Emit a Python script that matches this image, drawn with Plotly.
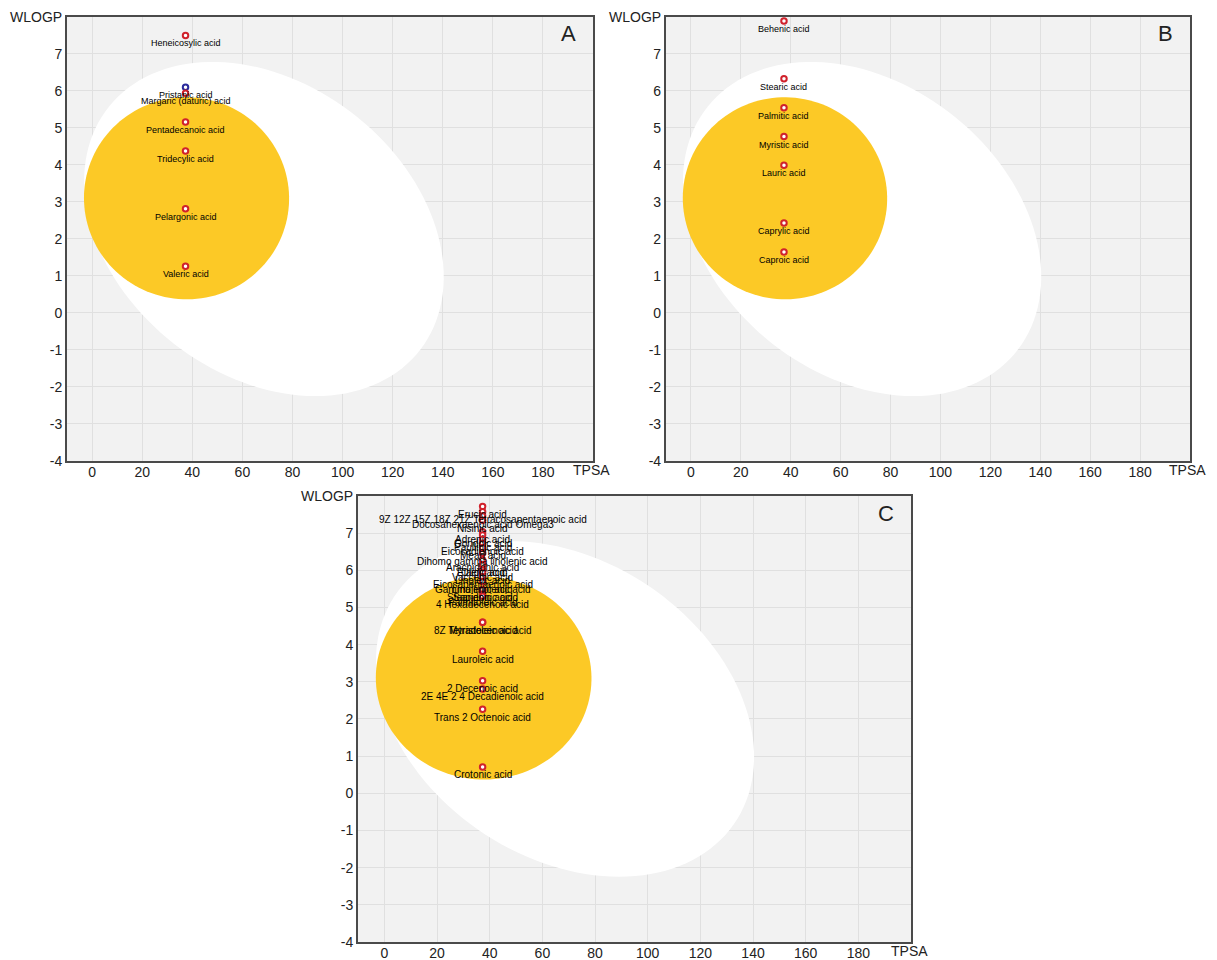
import numpy as np
import plotly.graph_objects as go

# TPSA / WLOGP of the fatty acids (BOILED-Egg)
A_NAMES = ["Heneicosylic acid", "Pristanic acid", "Margaric (daturic) acid",
           "Pentadecanoic acid", "Tridecylic acid", "Pelargonic acid", "Valeric acid"]
A_TPSA = [37.30, 37.30, 37.30, 37.30, 37.30, 37.30, 37.30]
A_WLOGP = [7.50, 6.10, 5.94, 5.16, 4.38, 2.82, 1.26]
A_PGP = [False, True, False, False, False, False, False]

B_NAMES = ["Behenic acid", "Stearic acid", "Palmitic acid", "Myristic acid",
           "Lauric acid", "Caprylic acid", "Caproic acid"]
B_TPSA = [37.30, 37.30, 37.30, 37.30, 37.30, 37.30, 37.30]
B_WLOGP = [7.89, 6.33, 5.55, 4.77, 3.99, 2.43, 1.65]
B_PGP = [False, False, False, False, False, False, False]

C_NAMES = ["Erucic acid", "9Z 12Z 15Z 18Z 21Z Tetracosapentaenoic acid",
           "Docosahexaenoic acid Omega3", "Nisinic acid", "Adrenic acid",
           "Gondoic acid", "Paullinic acid", "Eicosadienoic acid", "Mead acid",
           "Dihomo gamma linolenic acid", "Arachidonic acid", "Elaidic acid",
           "Oleic acid", "Vaccenic acid", "Linoleic acid", "Eicosapentaenoic acid",
           "Linolenic acid", "Gamma linolenic acid", "Stearidonic acid",
           "Sapienic acid", "Palmitoleic acid", "4 Hexadecenoic acid",
           "Myristoleic acid", "8Z Tetradecenoic acid", "Lauroleic acid",
           "2 Decenoic acid", "2E 4E 2 4 Decadienoic acid",
           "Trans 2 Octenoic acid", "Crotonic acid"]
C_TPSA = [37.30, 37.30, 37.30, 37.30, 37.30, 37.30, 37.30, 37.30, 37.30, 37.30,
          37.30, 37.30, 37.30, 37.30, 37.30, 37.30, 37.30, 37.30, 37.30, 37.30,
          37.30, 37.30, 37.30, 37.30, 37.30, 37.30, 37.30, 37.30, 37.30]
C_WLOGP = [7.72, 7.58, 7.46, 7.35, 7.04, 6.95, 6.84, 6.73, 6.61, 6.46,
           6.28, 6.15, 6.15, 6.01, 5.95, 5.83, 5.70, 5.70, 5.48, 5.48,
           5.36, 5.30, 4.60, 4.60, 3.82, 3.03, 2.81, 2.26, 0.71]
C_PGP = [False] * len(C_NAMES)

X_TICKS = [0, 20, 40, 60, 80, 100, 120, 140, 160, 180]
Y_TICKS = [-4, -3, -2, -1, 0, 1, 2, 3, 4, 5, 6, 7]

RED = "#d0222c"
BLUE = "#2b2b9c"
YOLK = "#fcc926"

# px per unit on the reference panel, used to shape the egg
SX, SY = 2.515, 37.0


def ellipse_path(cx, cy, a_px, b_px, angle_deg):
    phi = np.radians(angle_deg)
    t = np.linspace(0, 2 * np.pi, 140)
    dx = a_px * np.cos(t) * np.cos(phi) - b_px * np.sin(t) * np.sin(phi)
    dy = a_px * np.cos(t) * np.sin(phi) + b_px * np.sin(t) * np.cos(phi)
    xs = cx + dx / SX
    ys = cy - dy / SY
    path = "M %.3f,%.3f " % (xs[0], ys[0])
    path += " ".join("L %.3f,%.3f" % (x, y) for x, y in zip(xs[1:], ys[1:]))
    return path + " Z"


panels = [
    ("A", A_NAMES, A_TPSA, A_WLOGP, A_PGP, [0.0551, 0.4873], [0.5198, 0.9823], 9),
    ("B", B_NAMES, B_TPSA, B_WLOGP, B_PGP, [0.5472, 0.9778], [0.5198, 0.9823], 9),
    ("C", C_NAMES, C_TPSA, C_WLOGP, C_PGP, [0.2942, 0.7486], [0.0188, 0.4833], 10),
]

fig = go.Figure()
layout = {}
shapes = []
annotations = []
tick_font = dict(family="Arial", size=14, color="#222")
axis_style = dict(
    showline=True, mirror=True, linecolor="#4a4a4a", linewidth=2,
    showgrid=True, gridcolor="#e0e0e0", gridwidth=1, zeroline=False,
    ticks="", automargin=False, tickfont=tick_font,
)

for i, (letter, names, tpsa, wlogp, pgp, xdom, ydom, label_size) in enumerate(panels):
    n = "" if i == 0 else str(i + 1)
    xa, ya = "x" + n, "y" + n
    layout["xaxis" + n] = dict(axis_style, domain=xdom, range=[-10, 200], anchor=ya,
                               tickvals=X_TICKS, ticktext=[str(v) for v in X_TICKS],
                               ticklabelstandoff=-3)
    layout["yaxis" + n] = dict(axis_style, domain=ydom, range=[-4, 8], anchor=xa,
                               tickvals=Y_TICKS, ticktext=[str(v) for v in Y_TICKS])

    # white (HIA) and yolk (BBB)
    shapes.append(dict(type="path", path=ellipse_path(68.6, 2.27, 198, 146, 37.4),
                       xref=xa, yref=ya, fillcolor="white", line_width=0, layer="between"))
    shapes.append(dict(type="path", path=ellipse_path(37.7, 3.10, 103, 101, 4),
                       xref=xa, yref=ya, fillcolor=YOLK, line_width=0, layer="between"))

    fig.add_trace(go.Scatter(
        x=tpsa, y=wlogp, mode="markers", xaxis=xa, yaxis=ya, cliponaxis=False,
        marker=dict(size=5.5, color="white",
                    line=dict(width=2, color=[BLUE if p else RED for p in pgp])),
        hovertext=names, showlegend=False,
    ))
    for name, x, y in zip(names, tpsa, wlogp):
        annotations.append(dict(x=x, y=y, xref=xa, yref=ya, text=name, showarrow=False,
                                yshift=-8, xanchor="center", yanchor="middle",
                                font=dict(family="Arial", size=label_size, color="#000")))

    annotations.append(dict(text=letter, x=1, y=1, xref=xa + " domain", yref=ya + " domain",
                            xanchor="right", yanchor="middle", xshift=-15, yshift=-17,
                            showarrow=False, font=dict(family="Arial", size=22, color="#222")))
    annotations.append(dict(text="WLOGP", x=0, y=1, xref=xa + " domain", yref=ya + " domain",
                            xanchor="right", yanchor="middle", xshift=-3, showarrow=False,
                            font=tick_font))
    annotations.append(dict(text="TPSA", x=1, y=0, xref=xa + " domain", yref=ya + " domain",
                            xanchor="center", yanchor="top", xshift=-2, yshift=1,
                            showarrow=False, font=tick_font))

fig.update_layout(
    **layout,
    shapes=shapes,
    annotations=annotations,
    width=1217,
    height=960,
    margin=dict(l=0, r=0, t=0, b=0),
    paper_bgcolor="white",
    plot_bgcolor="#f2f2f2",
    font=dict(family="Arial", size=13, color="#222"),
    showlegend=False,
)

fig.write_html("out.html", config={"displayModeBar": False},
               post_script="document.body.style.margin='0';")
